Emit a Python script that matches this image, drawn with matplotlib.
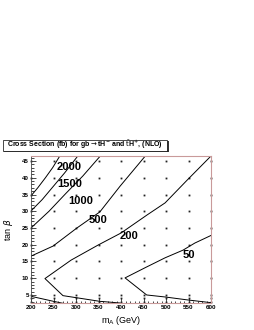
import matplotlib
matplotlib.use("Agg")
import matplotlib.pyplot as plt
from matplotlib.patches import Rectangle
import numpy as np

plt.rcParams['font.family'] = ['Liberation Sans', 'DejaVu Sans']

# ======= data =======
# scan grid points (m_A in GeV, tan beta)
grid_m = [200, 250, 300, 350, 400, 450, 500, 550, 600]
grid_tb = [3, 4, 5, 10, 15, 20, 25, 30, 35, 40, 45]

# contour lines, m_A and tan beta
m_2000 = [200, 215, 232, 248, 264, 270]
tb_2000 = [34.6, 37.0, 40.0, 43.0, 46.5, 48.0]
m_2000_low = [200, 250, 275]
tb_2000_low = [4.6, 3.1, 2.4]

m_1500 = [200, 225, 250, 275, 304, 310]
tb_1500 = [30.1, 33.5, 37.5, 41.5, 46.5, 47.5]

m_1000 = [200, 240, 278, 315, 354, 360]
tb_1000 = [25.0, 30.0, 35.4, 40.5, 46.5, 47.5]

m_500 = [200, 249, 302, 353, 398, 454, 460]
tb_500 = [16.6, 19.6, 25.0, 29.8, 37.5, 46.5, 47.5]

m_200 = [398, 353, 271, 231, 289, 349, 400, 458, 498, 547, 600]
tb_200 = [2.6, 3.1, 4.8, 9.9, 15.4, 19.9, 23.5, 28.9, 32.5, 39.3, 46.5]

m_50 = [600, 549, 498, 457, 409, 453, 498, 538, 564, 602]
tb_50 = [2.7, 3.5, 4.4, 5.0, 10.1, 13.1, 16.1, 18.4, 20.5, 22.9]

# contour labels
label_text = ["2000", "1500", "1000", "500", "200", "50"]
label_m = [285, 286, 310, 348, 418, 551]
label_tb = [43.2, 38.1, 33.1, 27.5, 22.6, 16.9]

# ======= figure =======
fig = plt.figure(figsize=(2.55, 3.30), dpi=100)
ax = fig.add_axes([0.1216, 0.0818, 0.7059, 0.4455])

gm, gt = np.meshgrid(grid_m, grid_tb)
ax.plot(gm.ravel(), gt.ravel(), 's', color='#222222', markersize=1.3,
        markeredgewidth=0, clip_on=False)

lines = [(m_2000, tb_2000), (m_2000_low, tb_2000_low), (m_1500, tb_1500),
         (m_1000, tb_1000), (m_500, tb_500), (m_200, tb_200), (m_50, tb_50)]
for xs, ys in lines:
    ax.plot(xs, ys, '-', color='black', linewidth=0.7)

for t, x, y in zip(label_text, label_m, label_tb):
    ax.text(x, y, t, fontsize=8, fontweight='bold', ha='center', va='center')

ax.set_xlim(200, 600)
ax.set_ylim(2.6, 46.5)
ax.set_xticks(range(200, 601, 50))
ax.set_xticks(range(200, 601, 10), minor=True)
ax.set_yticks(range(5, 46, 5))
ax.set_yticks(range(3, 47, 1), minor=True)
ax.tick_params(which='both', direction='in', top=False, right=False,
               labelsize=4.5, pad=1.5, width=0.5, color='black')
ax.tick_params(which='major', length=3.5)
ax.tick_params(which='minor', length=1.8)
for lab in ax.get_xticklabels() + ax.get_yticklabels():
    lab.set_fontweight('bold')

for side in ['top', 'right', 'bottom']:
    ax.spines[side].set_color('#c99a9a')
    ax.spines[side].set_linewidth(0.8)
ax.spines['left'].set_color('#444444')
ax.spines['left'].set_linewidth(0.6)

ax.set_xlabel(r"m$_{\rm A}$ (GeV)", fontsize=6.5, labelpad=3)
ax.set_ylabel(r"tan $\beta$", fontsize=6.5, labelpad=5)

# title box with shadow
fig.patches.append(Rectangle((4 / 255, 1 - 152 / 330), 165 / 255, 11 / 330,
                             transform=fig.transFigure, facecolor='#333333',
                             edgecolor='none'))
fig.patches.append(Rectangle((3 / 255, 1 - 150.5 / 330), 164 / 255, 11 / 330,
                             transform=fig.transFigure, facecolor='white',
                             edgecolor='black', linewidth=0.5))
fig.text(85 / 255, 1 - 145 / 330,
         r"Cross Section (fb) for gb$\rightarrow$tH$^{-}$ and $\bar{\rm t}$H$^{+}$, (NLO)",
         fontsize=5, fontweight='bold', ha='center', va='center')

fig.savefig("out.png", dpi=100)
